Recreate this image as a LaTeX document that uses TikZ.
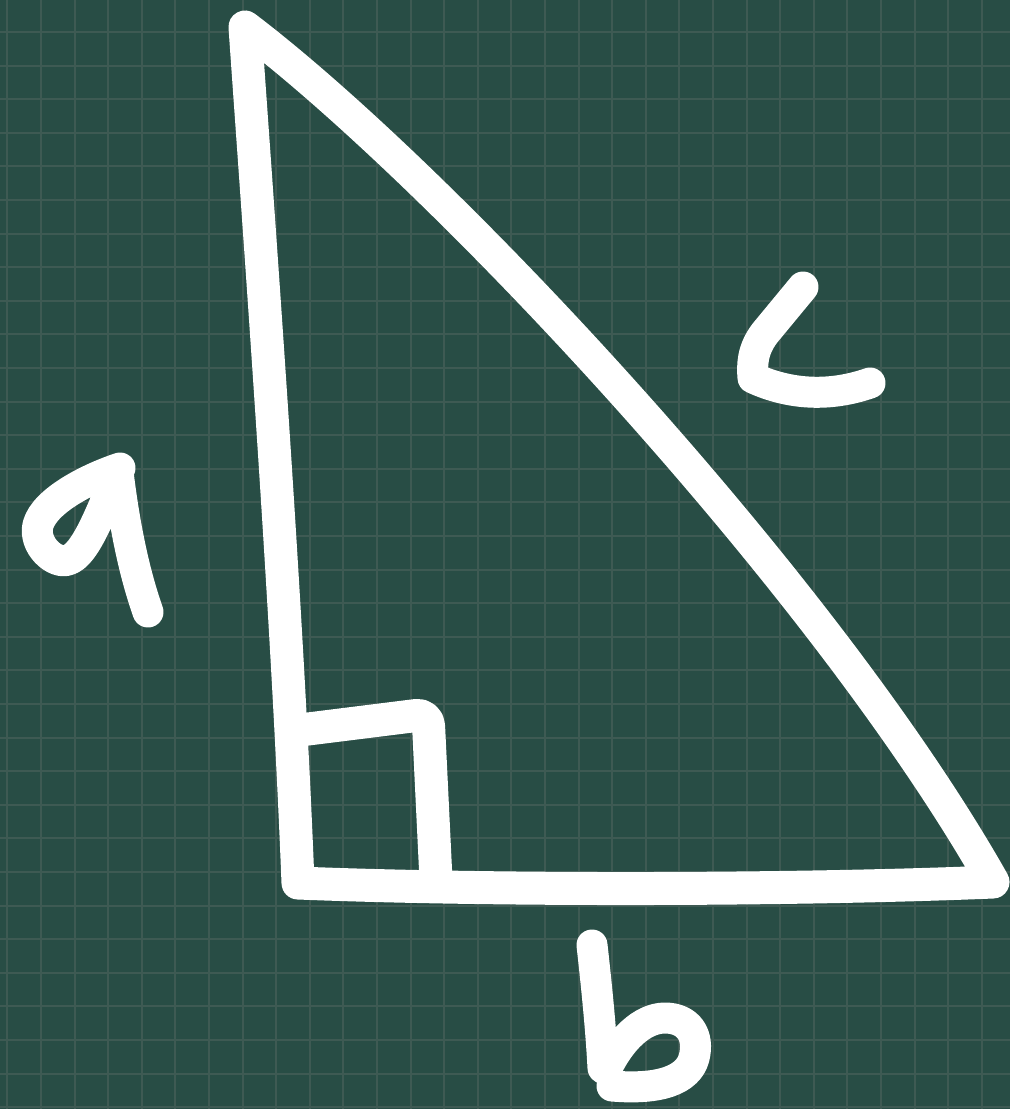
\documentclass[tikz,border=0pt]{standalone}
\definecolor{board}{RGB}{40,77,69}
\definecolor{gridline}{RGB}{62,90,83}
\begin{document}
\begin{tikzpicture}[x=1pt,y=-1pt,
  chalk/.style={draw=white,line width=33pt,line cap=round,line join=round},
  letter/.style={draw=white,line width=31pt,line cap=round,line join=round},
  gridstroke/.style={draw=gridline,line width=2pt}]
\useasboundingbox (0,0) rectangle (1010,1109);
\fill[board] (0,0) rectangle (1010,1109);
\begin{scope}
\clip (0,0) rectangle (1010,1109);
\foreach \i in {0,...,29} \draw[gridstroke] ({7.3+\i*33.6},0) -- ({7.3+\i*33.6},1109);
\foreach \j in {0,...,33} \draw[gridstroke] (0,{-1.6+\j*33.6}) -- (1010,{-1.6+\j*33.6});
\end{scope}
% vertices
\coordinate (A) at (245,27);
\coordinate (B) at (298,883);
\coordinate (C) at (993,882);
% triangle
\draw[chalk] (B) .. controls (287,600) and (257,200) .. (A)
  .. controls (440,175) and (825,585) .. (C)
  .. controls (800,890) and (500,891) .. (B) -- cycle;
% right-angle marker
\coordinate (R1) at (300,730);
\coordinate (R2) at (428,714);
\coordinate (R3) at (436,880);
\draw[chalk,rounded corners=12pt] (R1) -- (R2) -- (R3);
% letter a
\draw[letter] (120,468) .. controls (90,478) and (45,500) .. (38,525)
  .. controls (33,545) and (55,565) .. (68,560)
  .. controls (85,555) and (100,515) .. (118,472)
  .. controls (125,530) and (135,575) .. (148,612);
% letter b
\draw[letter] (592,945) .. controls (597,990) and (601,1030) .. (603,1068);
\draw[letter] (606,1070) .. controls (620,1040) and (642,1018) .. (665,1018)
  .. controls (688,1018) and (700,1035) .. (694,1058)
  .. controls (688,1080) and (660,1090) .. (612,1086);
% letter c
\draw[letter] (803,287) -- (765,333) .. controls (752,350) and (752,365) .. (753,378)
  .. controls (790,395) and (830,397) .. (870,383);
\end{tikzpicture}
\end{document}
